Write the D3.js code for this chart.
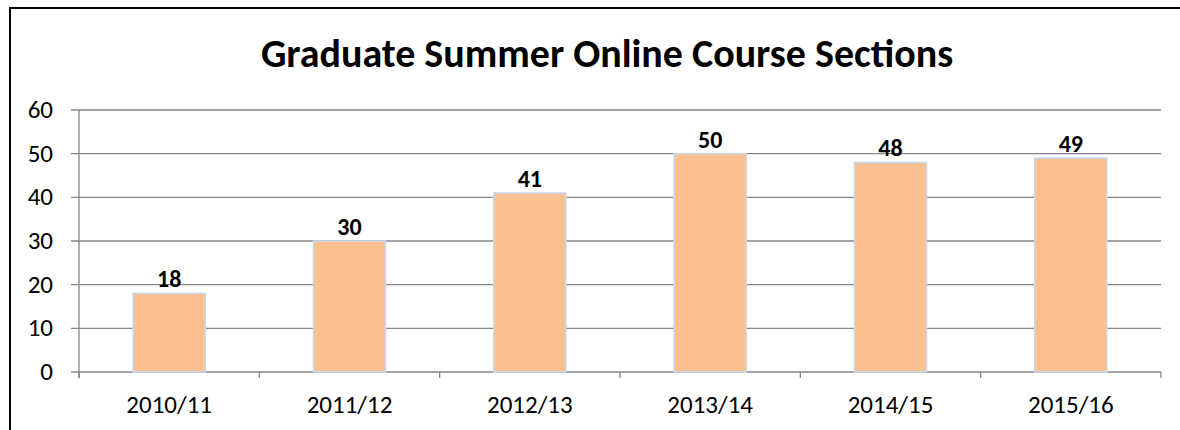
<!DOCTYPE html>
<html>
<head>
	<script src="https://cdn.jsdelivr.net/npm/d3@7"></script>
	<style>
		html, body {
			padding: 0;
			margin: 0;
			background: #fff;
		}
	</style>
</head>
<body>
	<script>
		var width = 1180, height = 430;

		var years = ['2010/11', '2011/12', '2012/13', '2013/14', '2014/15', '2015/16'];
		var sections = [18, 30, 41, 50, 48, 49];
		var yTicks = [0, 10, 20, 30, 40, 50, 60];

		var svg = d3.select('body').append('svg')
			.attr('width', width)
			.attr('height', height)
			.style('font-family', 'Carlito, "Open Sans", "Liberation Sans", sans-serif');

		// outer chart frame
		svg.append('rect')
			.attr('x', 10)
			.attr('y', 8)
			.attr('width', width + 10)
			.attr('height', height + 10)
			.attr('fill', 'none')
			.attr('stroke', '#000')
			.attr('stroke-width', 2);

		svg.append('text')
			.attr('x', 607)
			.attr('y', 67)
			.attr('text-anchor', 'middle')
			.style('font-size', '40px')
			.style('font-weight', 'bold')
			.text('Graduate Summer Online Course Sections');

		var plotL = 79, plotR = 1161, plotT = 110, plotB = 372;

		var x = d3.scaleBand()
			.domain(years)
			.range([plotL, plotR])
			.paddingInner(0.6)
			.paddingOuter(0.3);

		var y = d3.scaleLinear()
			.domain([0, 60])
			.range([plotB, plotT]);

		// gridlines
		svg.selectAll('.grid')
			.data(yTicks)
			.enter().append('line')
			.attr('x1', plotL - 8)
			.attr('x2', plotR)
			.attr('y1', function(d) { return y(d); })
			.attr('y2', function(d) { return y(d); })
			.attr('stroke', '#868686')
			.attr('stroke-width', 1.3);

		// y axis line
		svg.append('line')
			.attr('x1', plotL).attr('x2', plotL)
			.attr('y1', plotT).attr('y2', plotB + 6)
			.attr('stroke', '#868686')
			.attr('stroke-width', 1.3);

		// category ticks
		var step = (plotR - plotL) / years.length;
		svg.selectAll('.xtick')
			.data(d3.range(years.length + 1))
			.enter().append('line')
			.attr('x1', function(i) { return plotL + i * step; })
			.attr('x2', function(i) { return plotL + i * step; })
			.attr('y1', plotB)
			.attr('y2', plotB + 6)
			.attr('stroke', '#868686')
			.attr('stroke-width', 1.3);

		svg.selectAll('.ylab')
			.data(yTicks)
			.enter().append('text')
			.attr('x', 53)
			.attr('y', function(d) { return y(d) + 8; })
			.attr('text-anchor', 'end')
			.style('font-size', '25px')
			.text(function(d) { return d; });

		svg.selectAll('.xlab')
			.data(years)
			.enter().append('text')
			.attr('x', function(d) { return x(d) + x.bandwidth() / 2; })
			.attr('y', 413)
			.attr('text-anchor', 'middle')
			.style('font-size', '25px')
			.text(function(d) { return d; });

		svg.selectAll('.bar')
			.data(years)
			.enter().append('rect')
			.attr('x', function(d) { return x(d); })
			.attr('y', function(d, i) { return y(sections[i]); })
			.attr('width', x.bandwidth())
			.attr('height', function(d, i) { return plotB - y(sections[i]); })
			.attr('fill', '#fac090')
			.attr('stroke', '#c6d9f1')
			.attr('stroke-width', 1.5);

		svg.selectAll('.val')
			.data(years)
			.enter().append('text')
			.attr('x', function(d) { return x(d) + x.bandwidth() / 2; })
			.attr('y', function(d, i) { return y(sections[i]) - 6; })
			.attr('text-anchor', 'middle')
			.style('font-size', '24px')
			.style('font-weight', 'bold')
			.text(function(d, i) { return sections[i]; });
	</script>
</body>
</html>
